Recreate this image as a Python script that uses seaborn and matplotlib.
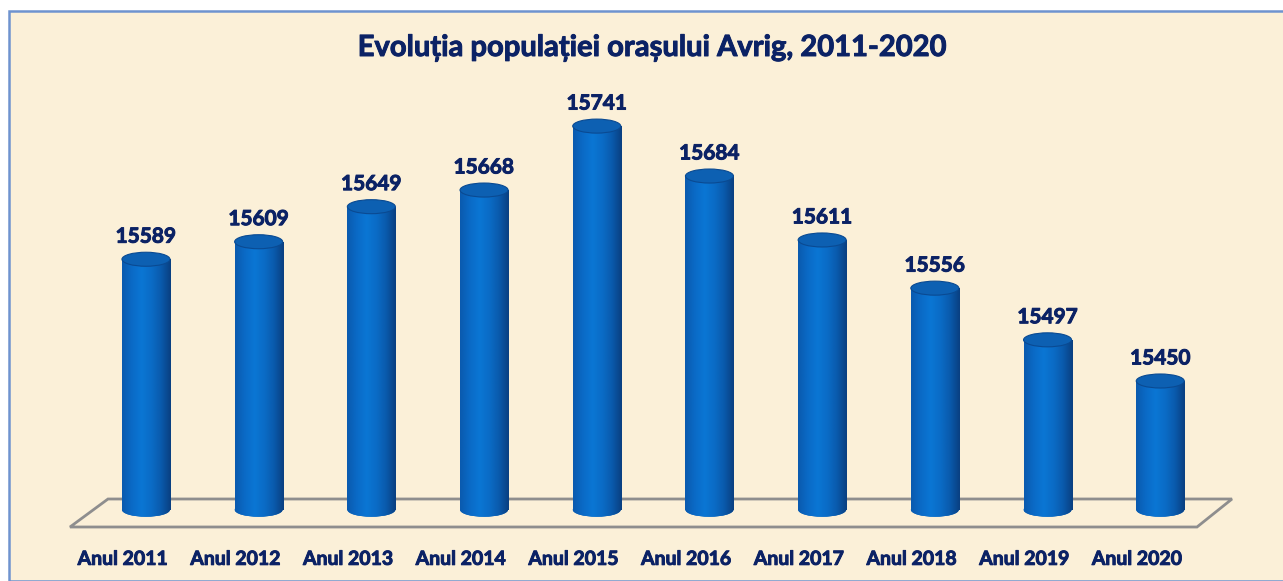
import numpy as np
import pandas as pd
import matplotlib
matplotlib.use("Agg")
import matplotlib.pyplot as plt
import matplotlib.patheffects as pe
import matplotlib.transforms as mtransforms
import seaborn as sns
from matplotlib.patches import Ellipse, Rectangle, Polygon
from matplotlib.colors import LinearSegmentedColormap

# date
ani = ["Anul 2011", "Anul 2012", "Anul 2013", "Anul 2014", "Anul 2015",
       "Anul 2016", "Anul 2017", "Anul 2018", "Anul 2019", "Anul 2020"]
populatie = [15589, 15609, 15649, 15668, 15741, 15684, 15611, 15556, 15497, 15450]
titlu = "Evoluția populației orașului Avrig, 2011-2020"

df = pd.DataFrame({"an": ani, "pop": populatie})

W, H = 1283, 581
sns.set_theme(style="white")
plt.rcParams["font.family"] = ["Lato", "DejaVu Sans"]

navy = "#0B2265"
fundal = "#FBF0D8"
gros = [pe.withStroke(linewidth=0.7, foreground=navy)]  # litere mai groase

fig = plt.figure(figsize=(W / 100, H / 100), dpi=100)
fig.patch.set_facecolor("white")

# fundal + chenar
fig.patches.append(Rectangle((9 / W, 0), 1.2, 1 - 11 / H, transform=fig.transFigure,
                             facecolor=fundal, edgecolor="#6E93CF", linewidth=1.8, zorder=-2))

# podea 3d
pts = [(70, 527), (108, 499), (1232, 499), (1197, 527)]
fig.patches.append(Polygon([(x / W, 1 - y / H) for x, y in pts], closed=True,
                           transform=fig.transFigure, facecolor="none",
                           edgecolor="#8E8E8E", linewidth=2, zorder=-1))

ax = fig.add_axes([89.6 / W, 1 - 530 / H, 1127 / W, 430 / H])
ax.set_facecolor("none")

ymin, ymax = 15279.9, 15770.8
baza = 15303
lat = 0.426
eh = 16  # inaltime elipsa (unitati y)

sns.barplot(data=df, x="an", y="pop", color="#0A68C0", width=lat, ax=ax,
            saturation=1, zorder=3)

cmap = LinearSegmentedColormap.from_list(
    "cil", ["#0A5AAE", "#0A6AC6", "#0B76D4", "#0A6CC6", "#0A5AAC", "#093F80"])
grad = np.linspace(0, 1, 256)[None, :]

for i, p in enumerate(ax.patches):
    v = populatie[i]
    x0 = p.get_x()
    p.set_y(baza)
    p.set_height(v - baza)
    p.set_edgecolor("none")
    im = ax.imshow(grad, cmap=cmap, aspect="auto", extent=(x0, x0 + lat, baza, v),
                   zorder=3.1, interpolation="bilinear")
    im.set_clip_path(p)
    jos = Ellipse((i, baza), lat, eh, facecolor="#0A68C0", edgecolor="none", zorder=2.9)
    ax.add_patch(jos)
    im2 = ax.imshow(grad, cmap=cmap, aspect="auto",
                    extent=(x0, x0 + lat, baza - eh / 2, baza), zorder=3.0,
                    interpolation="bilinear")
    im2.set_clip_path(jos)
    sus = Ellipse((i, v), lat, eh, facecolor="#0D60B2", edgecolor="#0A4A92",
                  linewidth=0.8, zorder=4)
    ax.add_patch(sus)
    ax.annotate(str(v), (i, v + eh / 2), xytext=(0, 4), textcoords="offset points",
                ha="center", va="bottom", fontsize=15, fontweight="bold", color=navy,
                path_effects=gros)

ax.set_xlim(-0.5, len(ani) - 0.5)
ax.set_ylim(ymin, ymax)
ax.set_xlabel("")
ax.set_ylabel("")
ax.set_yticks([])
ax.tick_params(axis="x", length=0, pad=15)
# etichetele sunt pe muchia din fata a podelei, putin spre stanga
shift = mtransforms.ScaledTranslation(-23 / 100, 0, fig.dpi_scale_trans)
for t in ax.get_xticklabels():
    t.set_fontsize(14)
    t.set_fontweight("bold")
    t.set_color(navy)
    t.set_path_effects(gros)
    t.set_transform(t.get_transform() + shift)
sns.despine(ax=ax, left=True, bottom=True)

fig.text(652 / W, 1 - 48 / H, titlu, ha="center", va="center", fontsize=21,
         fontweight="bold", color=navy, path_effects=gros)

fig.savefig("out.png", dpi=100, facecolor=fig.get_facecolor())
